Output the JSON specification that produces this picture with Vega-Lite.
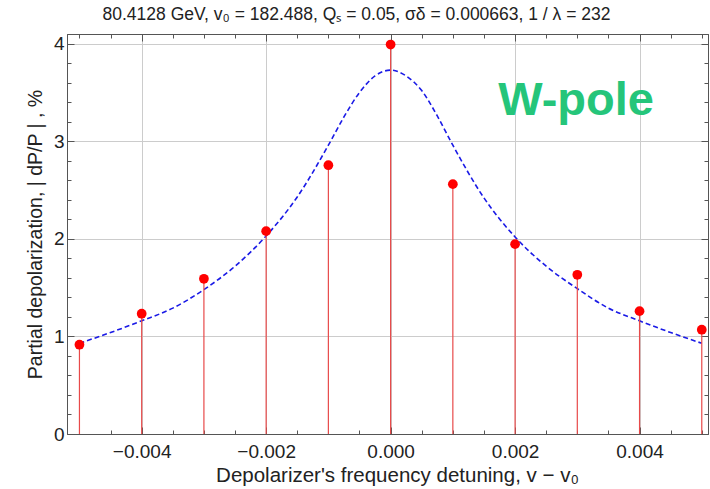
{
  "$schema": "https://vega.github.io/schema/vega-lite/v6.json",
  "width": 641,
  "height": 400,
  "autosize": "none",
  "padding": {"left": 67, "top": 34, "right": 2, "bottom": 55},
  "title": {
    "text": "80.4128 GeV, v₀ = 182.488, Qₛ = 0.05, σδ = 0.000663, 1 / λ =  232",
    "anchor": "middle",
    "frame": "group",
    "dx": -31,
    "offset": 10,
    "fontSize": 17.5,
    "font": "Liberation Sans",
    "fontWeight": "normal",
    "color": "#222222"
  },
  "datasets": {
    "points": [
      {"x": -0.005, "y": 0.915},
      {"x": -0.004, "y": 1.233},
      {"x": -0.003, "y": 1.591},
      {"x": -0.002, "y": 2.079},
      {"x": -0.001, "y": 2.755},
      {"x": 0.0, "y": 3.992},
      {"x": 0.001, "y": 2.561},
      {"x": 0.002, "y": 1.946},
      {"x": 0.003, "y": 1.632},
      {"x": 0.004, "y": 1.259},
      {"x": 0.005, "y": 1.069}
    ],
    "curve": [
      {"x": -0.005, "y": 0.93},
      {"x": -0.0045, "y": 1.04},
      {"x": -0.004, "y": 1.16},
      {"x": -0.0035, "y": 1.29},
      {"x": -0.003, "y": 1.48},
      {"x": -0.0025, "y": 1.72},
      {"x": -0.002, "y": 2.03},
      {"x": -0.0015, "y": 2.43},
      {"x": -0.001, "y": 2.96},
      {"x": -0.00075, "y": 3.25},
      {"x": -0.0005, "y": 3.5},
      {"x": -0.00025, "y": 3.67},
      {"x": 0.0, "y": 3.73},
      {"x": 0.00025, "y": 3.67},
      {"x": 0.0005, "y": 3.52},
      {"x": 0.00075, "y": 3.26},
      {"x": 0.001, "y": 2.96},
      {"x": 0.0015, "y": 2.42},
      {"x": 0.002, "y": 2.02},
      {"x": 0.0025, "y": 1.72},
      {"x": 0.003, "y": 1.49},
      {"x": 0.0035, "y": 1.29},
      {"x": 0.004, "y": 1.16},
      {"x": 0.0045, "y": 1.04},
      {"x": 0.005, "y": 0.93}
    ],
    "label": [
      {"x": 0.00298, "y": 3.27, "text": "W-pole"}
    ]
  },
  "layer": [
    {
      "data": {"name": "curve"},
      "mark": {"type": "line", "interpolate": "monotone", "color": "#1a1ae6", "strokeDash": [5, 3], "strokeWidth": 1.6},
      "encoding": {
        "x": {
          "field": "x", "type": "quantitative",
          "scale": {"domain": [-0.0052, 0.0051], "nice": false, "zero": false},
          "axis": {
            "orient": "bottom",
            "title": "Depolarizer's frequency detuning, v − v₀",
            "titleFontSize": 20.5,
            "titleFontWeight": "normal",
            "titleColor": "#222222",
            "titlePadding": 1,
            "titleX": 330,
            "titleAlign": "center",
            "values": [-0.005, -0.0045, -0.004, -0.0035, -0.003, -0.0025, -0.002, -0.0015, -0.001, -0.0005, 0, 0.0005, 0.001, 0.0015, 0.002, 0.0025, 0.003, 0.0035, 0.004, 0.0045, 0.005],
            "labelExpr": "abs(datum.value*500 - round(datum.value*500)) < 0.01 ? format(datum.value, '.3f') : ''",
            "labelFontSize": 19,
            "labelColor": "#222222",
            "labelPadding": 15,
            "labelOverlap": false,
            "labelFlush": false,
            "tickColor": "#555555",
            "tickSize": {"condition": {"test": "abs(datum.value*500 - round(datum.value*500)) < 0.01", "value": -7}, "value": -4},
            "grid": true,
            "gridColor": {"condition": {"test": "abs(datum.value*500 - round(datum.value*500)) < 0.01", "value": "#cccccc"}, "value": "rgba(0,0,0,0)"},
            "domainColor": "#555555"
          }
        },
        "y": {
          "field": "y", "type": "quantitative",
          "scale": {"domain": [0, 4.1], "nice": false, "zero": true},
          "axis": {
            "orient": "left",
            "title": "Partial depolarization, | dP/P | , %",
            "titleFontSize": 19.5,
            "titleFontWeight": "normal",
            "titleColor": "#222222",
            "titlePadding": 8,
            "values": [0, 0.2, 0.4, 0.6, 0.8, 1, 1.2, 1.4, 1.6, 1.8, 2, 2.2, 2.4, 2.6, 2.8, 3, 3.2, 3.4, 3.6, 3.8, 4],
            "labelExpr": "abs(datum.value - round(datum.value)) < 0.01 ? format(datum.value, 'd') : ''",
            "labelFontSize": 19,
            "labelColor": "#222222",
            "labelPadding": 10,
            "labelOverlap": false,
            "labelFlush": false,
            "tickColor": "#555555",
            "tickSize": {"condition": {"test": "abs(datum.value - round(datum.value)) < 0.01", "value": -7}, "value": -4},
            "grid": true,
            "gridColor": {"condition": {"test": "abs(datum.value - round(datum.value)) < 0.01", "value": "#cccccc"}, "value": "rgba(0,0,0,0)"},
            "domainColor": "#555555"
          }
        }
      }
    },
    {
      "data": {"name": "points"},
      "mark": {"type": "rule", "color": "#e84a4a", "strokeWidth": 1.2},
      "encoding": {
        "x": {
          "field": "x", "type": "quantitative",
          "axis": {
            "orient": "top",
            "title": null,
            "labels": false,
            "grid": false,
            "values": [-0.005, -0.0045, -0.004, -0.0035, -0.003, -0.0025, -0.002, -0.0015, -0.001, -0.0005, 0, 0.0005, 0.001, 0.0015, 0.002, 0.0025, 0.003, 0.0035, 0.004, 0.0045, 0.005],
            "tickColor": "#555555",
            "tickSize": {"condition": {"test": "abs(datum.value*500 - round(datum.value*500)) < 0.01", "value": -7}, "value": -4},
            "domainColor": "#555555"
          }
        },
        "y": {
          "field": "y", "type": "quantitative",
          "axis": {
            "orient": "right",
            "title": null,
            "labels": false,
            "grid": false,
            "values": [0, 0.2, 0.4, 0.6, 0.8, 1, 1.2, 1.4, 1.6, 1.8, 2, 2.2, 2.4, 2.6, 2.8, 3, 3.2, 3.4, 3.6, 3.8, 4],
            "tickColor": "#555555",
            "tickSize": {"condition": {"test": "abs(datum.value - round(datum.value)) < 0.01", "value": -7}, "value": -4},
            "domainColor": "#555555"
          }
        },
        "y2": {"datum": 0}
      }
    },
    {
      "data": {"name": "points"},
      "mark": {"type": "point", "filled": true, "size": 95, "color": "#ff0000", "opacity": 1},
      "encoding": {
        "x": {"field": "x", "type": "quantitative", "axis": null},
        "y": {"field": "y", "type": "quantitative", "axis": null}
      }
    },
    {
      "data": {"name": "label"},
      "mark": {"type": "text", "fontSize": 47, "fontWeight": "bold", "font": "Liberation Sans", "color": "#25c57a", "align": "center", "baseline": "alphabetic"},
      "encoding": {
        "x": {"field": "x", "type": "quantitative", "axis": null},
        "y": {"field": "y", "type": "quantitative", "axis": null},
        "text": {"field": "text"}
      }
    }
  ],
  "resolve": {"axis": {"x": "independent", "y": "independent"}},
  "config": {
    "view": {"stroke": "#555555", "strokeWidth": 1},
    "font": "Liberation Sans",
    "axis": {"labelFont": "Liberation Sans", "titleFont": "Liberation Sans"}
  }
}
